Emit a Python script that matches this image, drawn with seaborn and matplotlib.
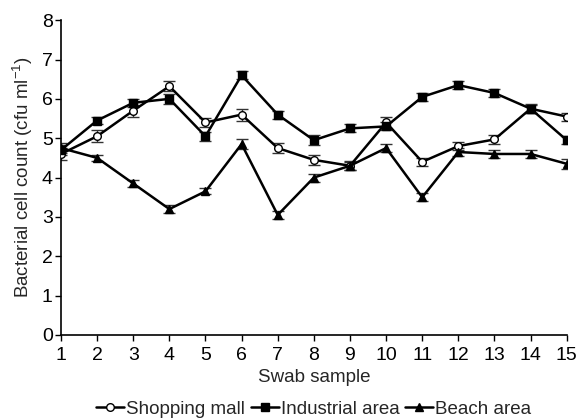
import matplotlib
matplotlib.use("Agg")
import matplotlib.pyplot as plt
import seaborn as sns
import pandas as pd
import numpy as np

samples = list(range(1, 16))
shopping_mall = [4.6, 5.05, 5.7, 6.32, 5.4, 5.6, 4.75, 4.45, 4.3, 5.4, 4.4, 4.8, 4.97, 5.75, 5.55]
industrial_area = [4.7, 5.45, 5.9, 6.0, 5.05, 6.6, 5.6, 4.95, 5.25, 5.3, 6.05, 6.35, 6.15, 5.75, 4.95]
beach_area = [4.75, 4.5, 3.85, 3.2, 3.65, 4.85, 3.05, 4.0, 4.3, 4.75, 3.5, 4.65, 4.6, 4.6, 4.35]
shopping_err = [0.15, 0.15, 0.15, 0.13, 0.12, 0.15, 0.12, 0.12, 0.12, 0.13, 0.1, 0.1, 0.12, 0.12, 0.1]
industrial_err = [0.12, 0.1, 0.1, 0.12, 0.12, 0.1, 0.1, 0.12, 0.1, 0.1, 0.1, 0.1, 0.1, 0.1, 0.1]
beach_err = [0.12, 0.08, 0.1, 0.1, 0.08, 0.12, 0.1, 0.1, 0.1, 0.1, 0.1, 0.1, 0.1, 0.1, 0.12]
series_names = ["Shopping mall", "Industrial area", "Beach area"]

sns.set_style("ticks")
plt.rcParams['font.family'] = ['Liberation Sans', 'DejaVu Sans']
plt.rcParams['mathtext.fontset'] = 'custom'
plt.rcParams['mathtext.rm'] = 'Liberation Sans'
plt.rcParams['mathtext.it'] = 'Liberation Sans'
plt.rcParams['mathtext.default'] = 'regular'

df = pd.DataFrame({
    "sample": samples * 3,
    "value": shopping_mall + industrial_area + beach_area,
    "err": shopping_err + industrial_err + beach_err,
    "series": [series_names[0]] * 15 + [series_names[1]] * 15 + [series_names[2]] * 15,
})

fig = plt.figure(figsize=(5.78, 4.2), dpi=100)
ax = fig.add_axes([0.1055, 0.2024, 0.875, 0.7496])

markers = {"Shopping mall": "o", "Industrial area": "s", "Beach area": "^"}
fills = {"Shopping mall": "white", "Industrial area": "black", "Beach area": "black"}

for name in series_names:
    sub = df[df["series"] == name]
    ax.errorbar(sub["sample"], sub["value"], yerr=sub["err"], fmt="none",
                ecolor="#333333", elinewidth=1.0, capsize=4, capthick=1.0, zorder=2)
    sns.lineplot(data=sub, x="sample", y="value", ax=ax, color="black",
                 linewidth=3.0, marker=markers[name], markersize=9,
                 markerfacecolor=fills[name], markeredgecolor="black", markeredgewidth=1.0,
                 label=name, zorder=3)

ax.set_xlim(1, 15)
ax.set_ylim(0, 8)
ax.set_xticks(samples)
ax.set_yticks(range(0, 9))
ax.tick_params(axis="both", labelsize=14, direction="out", length=4, width=1, colors="black")
ax.tick_params(axis="x", pad=5)
ax.tick_params(axis="y", pad=2)
sns.despine(ax=ax)
for s in ["left", "bottom"]:
    ax.spines[s].set_linewidth(1.2)
    ax.spines[s].set_color("black")
ax.set_xlabel("Swab sample", fontsize=13.5, labelpad=3)
ax.set_ylabel("Bacterial cell count (cfu ml$^{-1}$)", fontsize=13.5, labelpad=5)

handles, labels = ax.get_legend_handles_labels()
for h in handles:
    h.set_markersize(5.5)
    h.set_linewidth(1.8)
ax.legend(handles, labels, loc="upper center", bbox_to_anchor=(0.5, -0.185), ncol=3,
          frameon=False, fontsize=13.5, handlelength=1.5, handletextpad=0.1, columnspacing=0.3,
          borderaxespad=0)

fig.savefig("out.png", dpi=100)
